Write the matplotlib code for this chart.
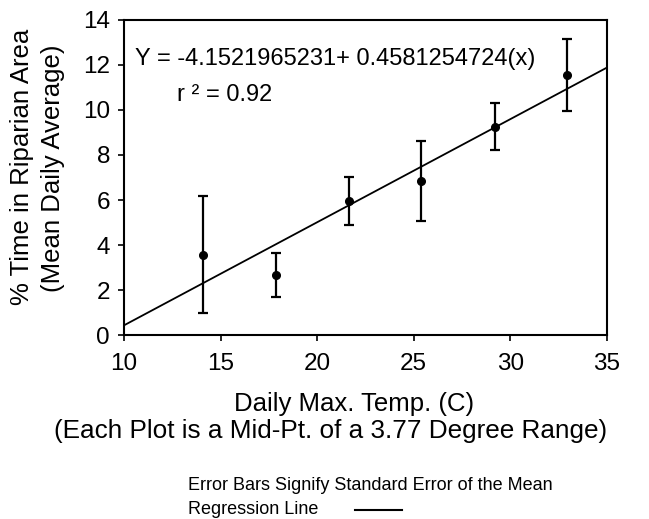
import numpy as np
import matplotlib.pyplot as plt
from matplotlib.lines import Line2D

plt.rcParams['font.family'] = ['Liberation Sans', 'DejaVu Sans']

temp = [14.1, 17.85, 21.65, 25.4, 29.2, 32.95]
pct_time = [3.57, 2.68, 5.96, 6.86, 9.26, 11.57]
std_err = [2.61, 0.97, 1.06, 1.78, 1.06, 1.6]

intercept = -4.1521965231
slope = 0.4581254724
r2 = 0.92

fig = plt.figure(figsize=(6.49, 5.19), dpi=100)
ax = fig.add_axes([0.191, 0.3545, 0.744, 0.607])

xs = np.array([10, 35])
ax.plot(xs, intercept + slope * xs, color='black', lw=1.3, zorder=2)
ax.errorbar(temp, pct_time, yerr=std_err, fmt='o', color='black', ms=5.5,
            elinewidth=1.6, capsize=3.5, capthick=1.6, zorder=3)

ax.set_xlim(10, 35)
ax.set_ylim(0, 14)
ax.set_xticks([10, 15, 20, 25, 30, 35])
ax.set_yticks(range(0, 15, 2))
ax.tick_params(axis='both', labelsize=17.5, direction='out', length=4, width=1.2)
ax.tick_params(axis='x', pad=9)
ax.tick_params(axis='y', pad=6)
for s in ax.spines.values():
    s.set_linewidth(1.5)

ax.text(0.023, 0.876, f'Y = {intercept:.10f}+ {slope:.10f}(x)', transform=ax.transAxes,
        fontsize=17, va='center', ha='left')
ax.text(0.11, 0.763, f'r \u00b2 = {r2:.2f}', transform=ax.transAxes,
        fontsize=17, va='center', ha='left')

fig.text(22 / 649, 1 - 167 / 519, '% Time in Riparian Area', rotation=90,
         fontsize=18.5, ha='center', va='center')
fig.text(53 / 649, 1 - 168 / 519, '(Mean Daily Average)', rotation=90,
         fontsize=18.5, ha='center', va='center')

fig.text(354 / 649, 1 - 404 / 519, 'Daily Max. Temp. (C)', fontsize=18.5,
         ha='center', va='center')
fig.text(331 / 649, 1 - 431 / 519, '(Each Plot is a Mid-Pt. of a 3.77 Degree Range)',
         fontsize=18.8, ha='center', va='center')

fig.text(188 / 649, 1 - 485 / 519, 'Error Bars Signify Standard Error of the Mean',
         fontsize=13, ha='left', va='center')
fig.text(188 / 649, 1 - 510 / 519, 'Regression Line', fontsize=13,
         ha='left', va='center')
fig.add_artist(Line2D([355 / 649, 402 / 649], [1 - 510 / 519, 1 - 510 / 519],
                      color='black', lw=1.5))

fig.savefig('out.png', dpi=100)
